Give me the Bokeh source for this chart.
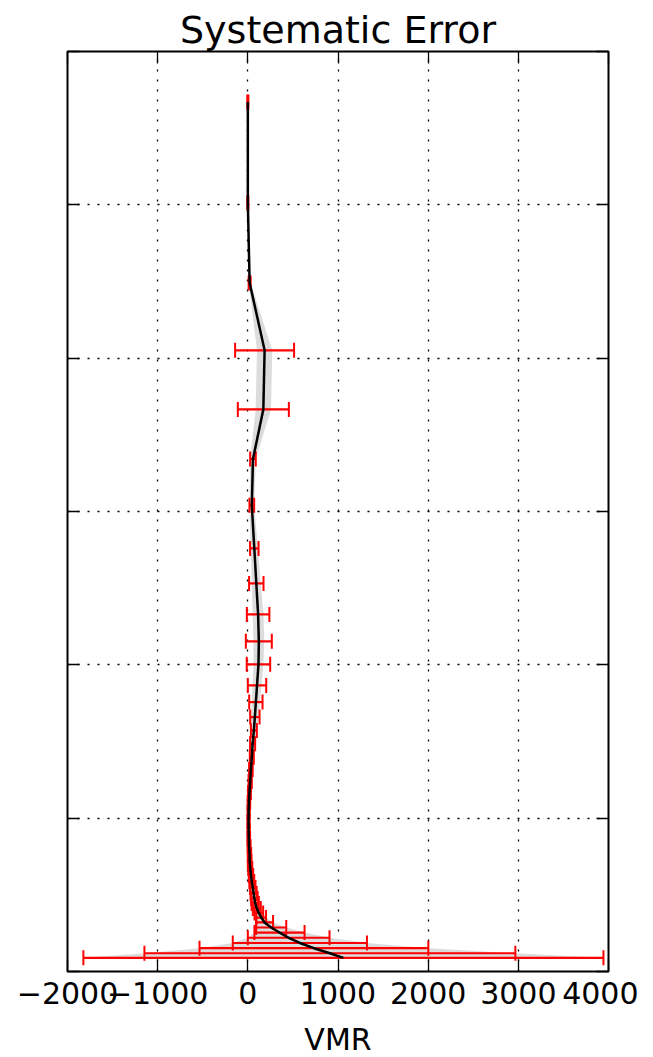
from bokeh.plotting import figure
from bokeh.models import Range1d, FixedTicker, LinearAxis, ColumnDataSource
from bokeh.embed import file_html
from bokeh.resources import INLINE

# altitude levels (plot units, 0..60)
alt = [56.7, 50.13, 44.91, 40.51, 36.66, 33.43, 30.40, 27.59, 25.31, 23.29,
       21.53, 20.03, 18.66, 17.57, 16.59, 15.72, 14.85, 13.98, 13.18, 12.39,
       11.68, 11.02, 10.37, 9.78, 9.20, 8.68, 8.15, 7.63, 7.18, 6.72, 6.26,
       5.87, 5.48, 5.09, 4.76, 4.44, 4.11, 3.82, 3.52, 3.20, 2.87, 2.54,
       2.20, 1.86, 1.52, 1.19, 0.89]
# retrieved VMR profile
vmr = [0, 0, 20, 186, 172, 57, 44, 72, 94, 114,
       122, 118, 102, 89, 78, 67, 53, 44, 34, 26,
       18, 12, 9, 8, 9, 11, 14, 19, 20, 27, 35,
       44, 55, 64, 73, 82, 100, 122, 148, 186, 259, 351,
       453, 577, 733, 910, 1060]
# systematic error (error bars)
err = [6, 6, 11, 327, 283, 31, 26, 47, 80, 125,
       144, 130, 102, 74, 52, 33, 28, 22, 20, 18,
       16, 14, 12, 12, 12, 14, 16, 18, 20, 22, 24,
       27, 30, 34, 36, 40, 44, 48, 54, 94, 167, 278,
       453, 744, 1269, 2057, 2884]
# shaded spread
band = [0, 0, 11, 85, 85, 31, 26, 40, 50, 60,
        60, 55, 50, 45, 40, 33, 28, 22, 20, 18,
        16, 14, 12, 12, 12, 14, 16, 18, 20, 22, 24,
        27, 30, 34, 36, 40, 44, 48, 54, 94, 167, 278,
        453, 744, 1269, 2057, 2884]

x_ticks = [-2000, -1000, 0, 1000, 2000, 3000, 4000]
x_tick_labels = ["\u22122000", "\u22121000", "0", "1000", "2000", "3000", "4000"]
y_ticks = [0, 10, 20, 30, 40, 50, 60]

src = ColumnDataSource(dict(
    alt=alt, vmr=vmr,
    lo=[v - e for v, e in zip(vmr, err)],
    hi=[v + e for v, e in zip(vmr, err)],
    blo=[v - b for v, b in zip(vmr, band)],
    bhi=[v + b for v, b in zip(vmr, band)],
))

FONT = "DejaVu Sans"
p = figure(frame_width=541, frame_height=920,
           x_range=Range1d(-2000, 4000), y_range=Range1d(0, 60),
           output_backend="svg", toolbar_location=None,
           title="Systematic Error",
           min_border_left=67, min_border_right=30, min_border_top=51,
           min_border_bottom=70)
p.title.align = "center"
p.title.text_font = FONT
p.title.text_font_size = "38px"
p.title.text_font_style = "normal"
p.title.text_color = "black"
p.title.standoff = 0
p.title.offset = 0

p.outline_line_color = "black"
p.outline_line_width = 2
p.outline_line_alpha = 1
p.background_fill_color = "white"
p.border_fill_color = "white"

# grids
for g in (p.xgrid, p.ygrid):
    g.grid_line_color = "black"
    g.grid_line_dash = "2 8"
    g.grid_line_width = 1.3
p.xgrid.ticker = FixedTicker(ticks=x_ticks)
p.ygrid.ticker = FixedTicker(ticks=y_ticks)

# bottom axis
xa = p.xaxis[0]
xa.ticker = FixedTicker(ticks=x_ticks)
xa.major_label_overrides = {t: l for t, l in zip(x_ticks, x_tick_labels)}
xa.axis_label = "VMR"
xa.axis_label_text_font = FONT
xa.axis_label_text_font_size = "30px"
xa.axis_label_text_font_style = "normal"
xa.axis_label_text_color = "black"
xa.axis_label_standoff = 15
xa.major_label_text_font = FONT
xa.major_label_text_font_size = "30px"
xa.major_label_text_color = "black"
xa.major_label_standoff = 10
xa.axis_line_color = None
xa.major_tick_in = 12
xa.major_tick_out = 0
xa.major_tick_line_width = 1.3
xa.minor_tick_line_color = None

ya = p.yaxis[0]
ya.ticker = FixedTicker(ticks=y_ticks)
ya.major_label_text_font_size = "0px"
ya.major_label_standoff = 0
ya.axis_line_color = None
ya.major_tick_in = 12
ya.major_tick_out = 0
ya.major_tick_line_width = 1.3
ya.minor_tick_line_color = None

# mirrored ticks on top and right
top = LinearAxis(ticker=FixedTicker(ticks=x_ticks), major_label_text_font_size="0px",
                 major_label_standoff=0, axis_line_color=None, major_tick_in=12,
                 major_tick_out=0, major_tick_line_width=1.3, minor_tick_line_color=None)
right = LinearAxis(ticker=FixedTicker(ticks=y_ticks), major_label_text_font_size="0px",
                   major_label_standoff=0, axis_line_color=None, major_tick_in=12,
                   major_tick_out=0, major_tick_line_width=1.3, minor_tick_line_color=None)
p.add_layout(top, "above")
p.add_layout(right, "right")

# shaded band
p.harea(x1="blo", x2="bhi", y="alt", source=src, fill_color="#dcdcdc", fill_alpha=1)

# error bars: horizontal segments plus vertical caps
p.segment(x0="lo", y0="alt", x1="hi", y1="alt", source=src,
          line_color="red", line_width=2.2)
p.scatter(x="lo", y="alt", source=src, marker="dash", angle=1.5708, size=15,
          line_color="red", line_width=2, fill_color=None)
p.scatter(x="hi", y="alt", source=src, marker="dash", angle=1.5708, size=15,
          line_color="red", line_width=2, fill_color=None)

# profile
p.line(x="vmr", y="alt", source=src, line_color="black", line_width=2.5)

open("out.html", "w").write(file_html(p, INLINE))
